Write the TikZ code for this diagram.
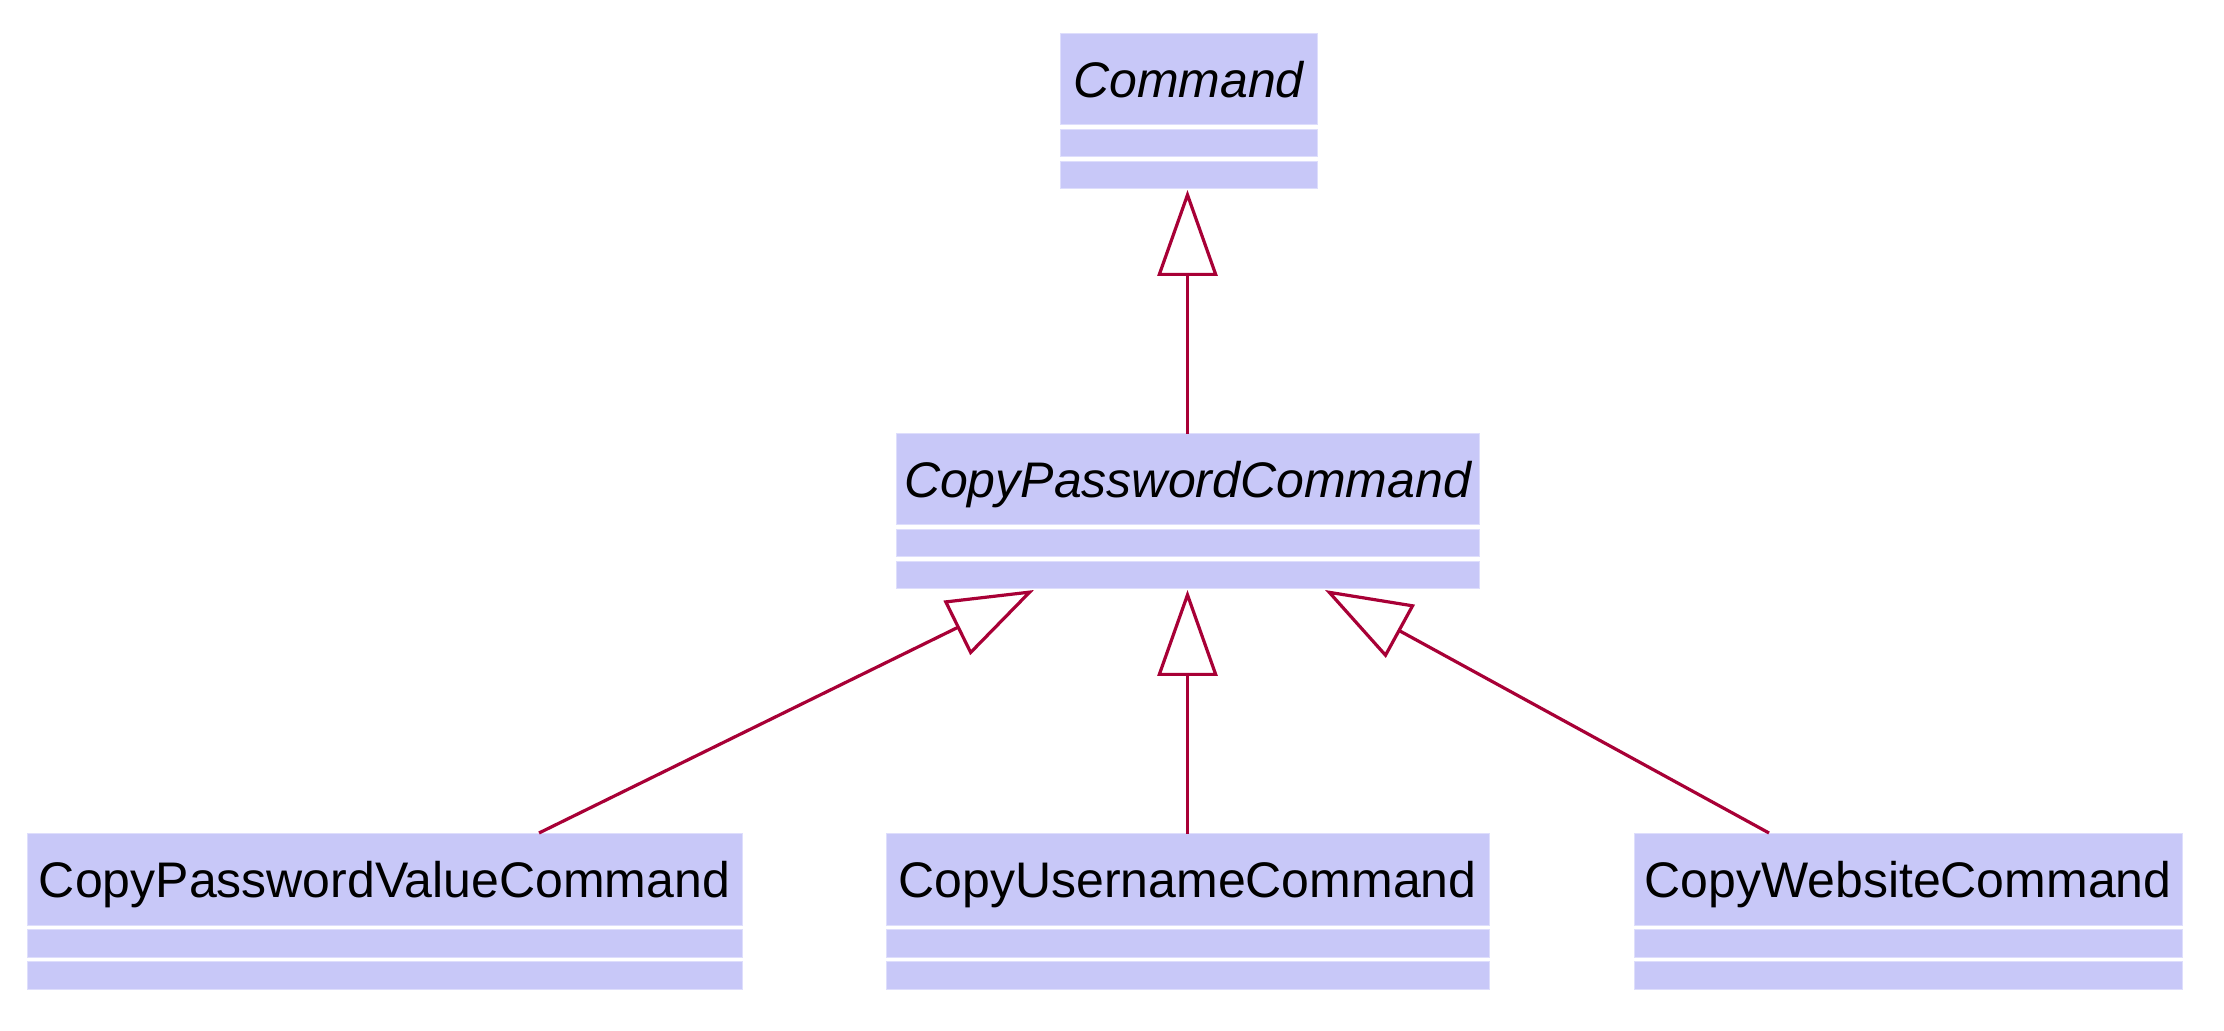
\documentclass[tikz,border=0pt]{standalone}
\usepackage{fontspec}
\setmainfont{Liberation Sans}
\usetikzlibrary{arrows.meta,calc,fit}
\definecolor{classbg}{RGB}{200,200,248}
\definecolor{classedge}{RGB}{222,222,252}
\definecolor{linkred}{RGB}{168,0,54}
\tikzset{
  classframe/.style={inner sep=0pt, outer sep=0pt, draw=none},
  classsection/.style={fill=classbg, draw=classedge, line width=0.5pt},
  classname/.style={anchor=base, inner sep=0pt, font=\fontsize{25}{30}\selectfont},
  abstractname/.style={anchor=base, inner sep=0pt, font=\fontsize{25}{30}\selectfont\itshape},
  generalization/.style={draw=linkred, line width=1.6pt,
    -{Triangle[open, length=43pt, width=30pt, fill=white]}}
}
% #1 name, #2 left, #3 right, #4 top, #5 text style, #6 text
\newcommand\umlclass[6]{%
  \node[classframe, fit={(#2,#4) (#3,#4+155)}] (#1) {};
  \draw[classsection] (#1.north west) rectangle ($(#1.north east)+(0,91)$);
  \draw[classsection] ($(#1.north west)+(0,95.5)$) rectangle ($(#1.north east)+(0,123)$);
  \draw[classsection] ($(#1.north west)+(0,127.5)$) rectangle (#1.south east);
  \node[#5] (#1-name) at ($(#1.north)+(0,63.5)$) {#6};
}
\begin{document}
\begin{tikzpicture}[x=0.5pt, y=-0.5pt]
  \fill[white] (0,0) rectangle (2224,1031);
  \useasboundingbox (0,0) rectangle (2224,1031);

  \umlclass{cmd}{1060}{1317}{34}{abstractname}{Command}
  \umlclass{cpc}{896}{1479}{434}{abstractname}{CopyPasswordCommand}
  \umlclass{pvc}{27}{742}{834}{classname}{CopyPasswordValueCommand}
  \umlclass{cun}{886}{1489}{834}{classname}{CopyUsernameCommand}
  \umlclass{cws}{1634}{2182}{834}{classname}{CopyWebsiteCommand}

  \draw[generalization] (cpc.north) -- ($(cpc.north |- cmd.south)+(0,1)$);
  \draw[generalization] (cun.north) -- ($(cun.north |- cpc.south)+(0,1)$);
  \draw[generalization] ($(pvc.north west)+(512,-1)$) -- ($(cpc.south west)+(138,1)$);
  \draw[generalization] ($(cws.north west)+(135,-1)$) -- ($(cpc.south west)+(429,1)$);
\end{tikzpicture}
\end{document}
